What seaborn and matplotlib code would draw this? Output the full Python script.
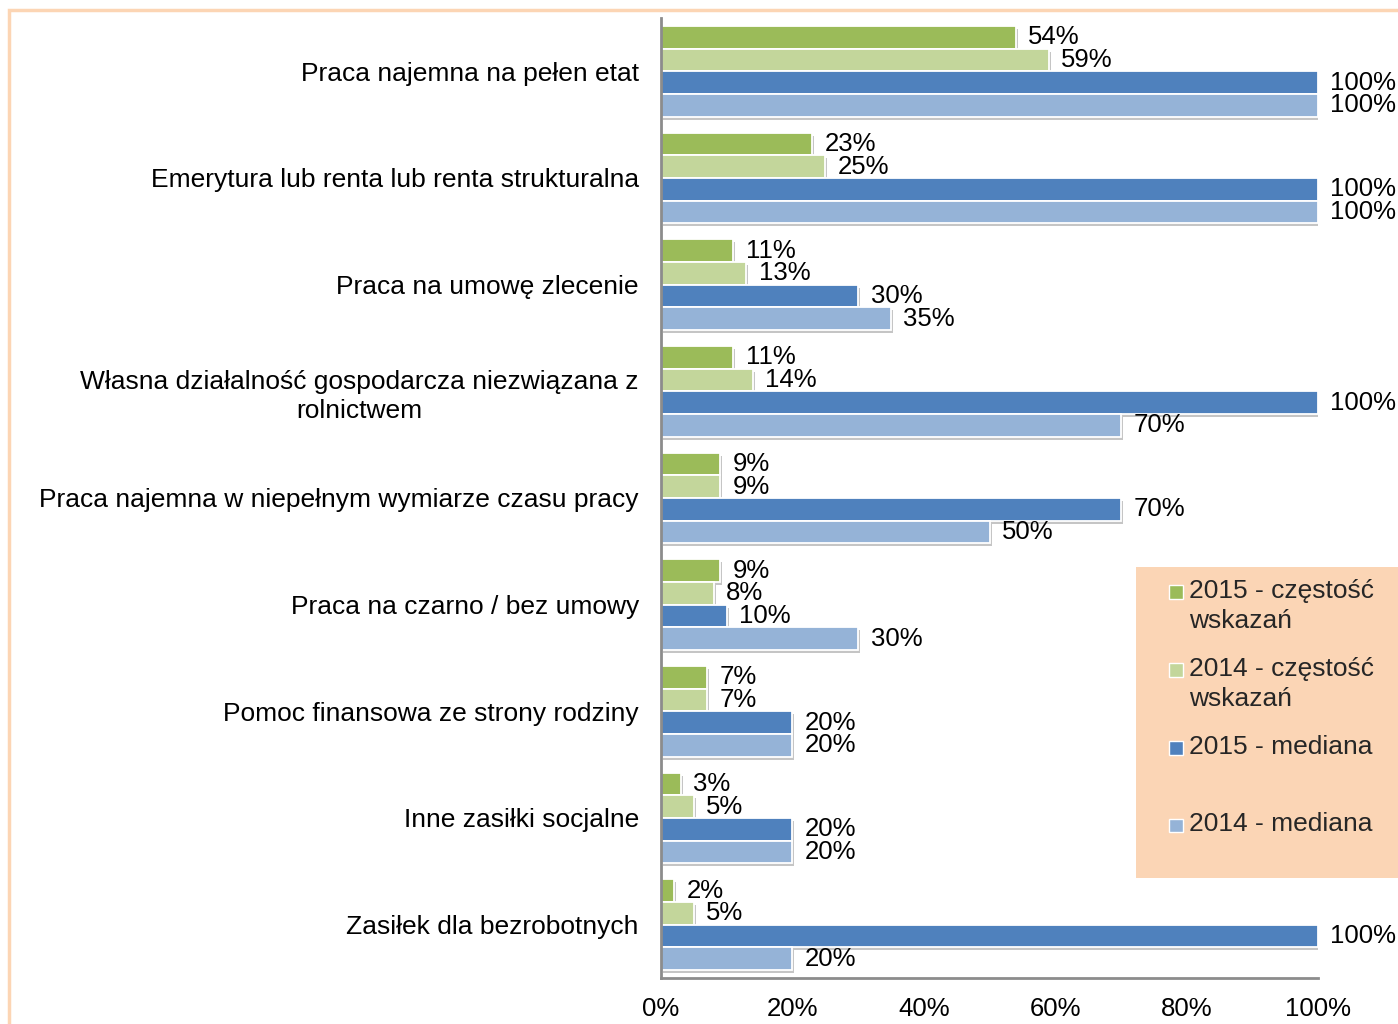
import numpy as np
import pandas as pd
import seaborn as sns
import matplotlib.pyplot as plt
import matplotlib.patheffects as pe
from matplotlib.patches import Rectangle
from matplotlib.legend_handler import HandlerPatch

categories = [
    "Praca najemna na pełen etat",
    "Emerytura lub renta lub renta strukturalna",
    "Praca na umowę zlecenie",
    "Własna działalność gospodarcza niezwiązana z\nrolnictwem",
    "Praca najemna w niepełnym wymiarze czasu pracy",
    "Praca na czarno / bez umowy",
    "Pomoc finansowa ze strony rodziny",
    "Inne zasiłki socjalne",
    "Zasiłek dla bezrobotnych",
]
series_names = ["2015 - częstość wskazań", "2014 - częstość wskazań",
                "2015 - mediana", "2014 - mediana"]
legend_labels = ["2015 - częstość\nwskazań", "2014 - częstość\nwskazań",
                 "2015 - mediana\n ", "2014 - mediana"]
freq_2015 = [54, 23, 11, 11, 9, 9, 7, 3, 2]
freq_2014 = [59, 25, 13, 14, 9, 8, 7, 5, 5]
median_2015 = [100, 100, 30, 100, 70, 10, 20, 20, 100]
median_2014 = [100, 100, 35, 70, 50, 30, 20, 20, 20]
colors = ["#9BBB59", "#C3D69B", "#4F81BD", "#95B3D7"]
xticks = [0, 20, 40, 60, 80, 100]
xtick_labels = [f"{t}%" for t in xticks]

series_values = [freq_2015, freq_2014, median_2015, median_2014]
rows = []
for name, vals in zip(series_names, series_values):
    for cat, v in zip(categories, vals):
        rows.append({"Kategoria": cat, "Seria": name, "Wartość": v})
df = pd.DataFrame(rows)

sns.set_theme(style="white")
plt.rcParams["font.family"] = ["Liberation Sans", "DejaVu Sans"]

fig = plt.figure(figsize=(13.98, 10.24), dpi=100)
W, H = 1398, 1024
ax = fig.add_axes([661 / W, 1 - 978 / H, 657 / W, 960 / H])

sns.barplot(data=df, y="Kategoria", x="Wartość", hue="Seria",
            order=categories, hue_order=series_names, palette=colors,
            orient="h", width=0.85, edgecolor="white", linewidth=1.3,
            saturation=1, ax=ax, errorbar=None)

for patch in ax.patches:
    patch.set_path_effects([
        pe.SimplePatchShadow(offset=(1.5, -2.2), shadow_rgbFace="#7f7f7f", alpha=0.45),
        pe.Normal(),
    ])

for cont, vals in zip(ax.containers, series_values):
    ax.bar_label(cont, labels=[f"{v}%" for v in vals], padding=9,
                 fontsize=18.5, color="black")

ax.set_xlim(0, 100)
ax.set_ylim(8.5, -0.5)
ax.set_xticks(xticks)
ax.set_xticklabels(xtick_labels)
ax.set_xlabel("")
ax.set_ylabel("")
ax.tick_params(axis="x", length=0, pad=14, labelsize=18.5, colors="black")
ax.tick_params(axis="y", length=0, pad=16, labelsize=19, colors="black")
for t in ax.get_yticklabels():
    t.set_multialignment("center")
    t.set_linespacing(1.25)

for s in ["top", "right"]:
    ax.spines[s].set_visible(False)
for s in ["left", "bottom"]:
    ax.spines[s].set_color("#8c8c8c")
    ax.spines[s].set_linewidth(2)

# legend
handles, _ = ax.get_legend_handles_labels()
if ax.get_legend() is not None:
    ax.get_legend().remove()


def square_marker(legend, orig_handle, xdescent, ydescent, width, height, fontsize):
    s = width
    return Rectangle((-xdescent, -ydescent + height - s - 4.5), s, s)


fig.add_artist(Rectangle((1136 / W, 1 - 878 / H), 1.0, 311 / H,
                         transform=fig.transFigure, facecolor="#FBD5B5",
                         edgecolor="none", zorder=1))
leg = fig.legend(handles, legend_labels, loc="upper left",
                 bbox_to_anchor=(1169 / W, 1 - 579 / H), frameon=False,
                 fontsize=19, handlelength=0.52, handleheight=1.0,
                 handletextpad=0.25, labelspacing=0.9, borderpad=0,
                 borderaxespad=0,
                 handler_map={Rectangle: HandlerPatch(patch_func=square_marker)})
leg.set_zorder(5)
for t in leg.get_texts():
    t.set_linespacing(1.32)
for col in leg._legend_handle_box.get_children():
    for item in col.get_children():
        item.align = "top"
for h in leg.legend_handles:
    h.set_path_effects([])
    h.set_edgecolor("white")
    h.set_linewidth(1)

# outer frame
fig.add_artist(Rectangle((8.5 / W, -0.5), 2.0, 0.5 + 1 - 9.5 / H,
                         transform=fig.transFigure, fill=False,
                         edgecolor="#FCD5B4", linewidth=2.5, zorder=2))

fig.savefig("out.png", dpi=100, facecolor="white")
